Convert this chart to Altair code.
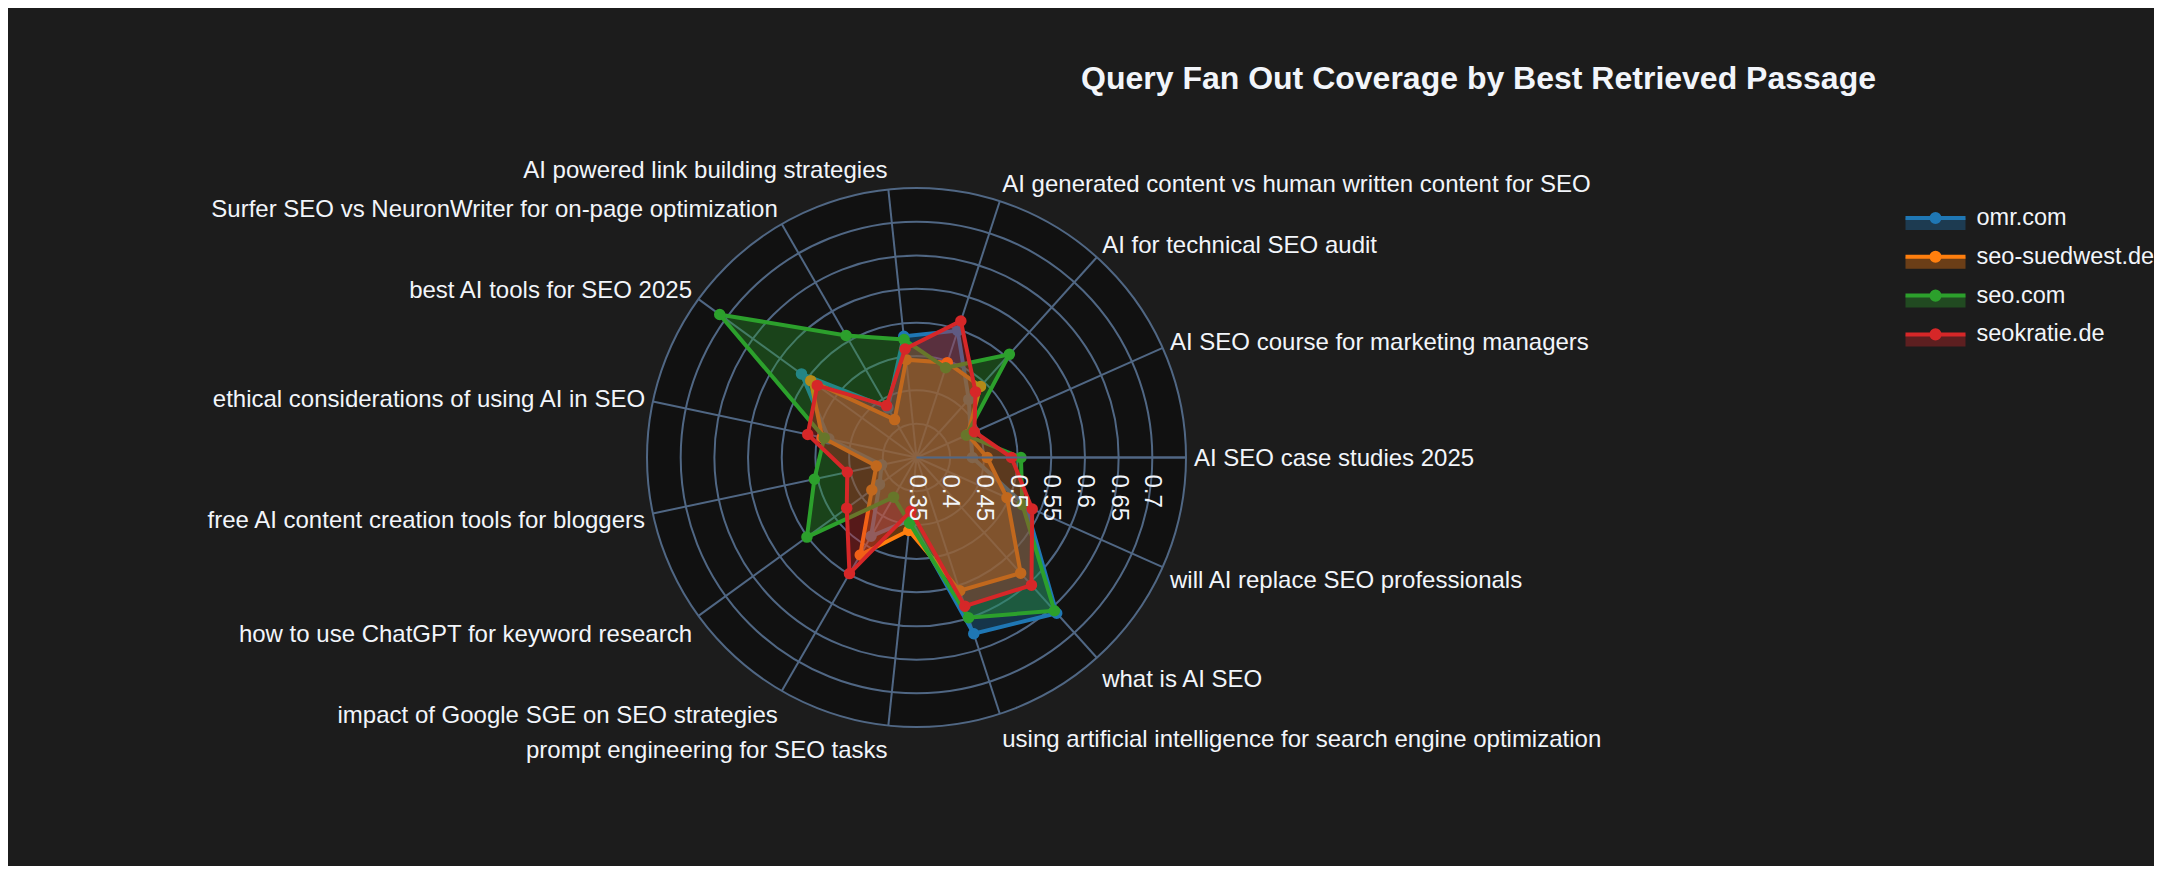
import math
import altair as alt
import pandas as pd

# ---------------- data ----------------
categories = [
    "AI SEO case studies 2025",
    "AI SEO course for marketing managers",
    "AI for technical SEO audit",
    "AI generated content vs human written content for SEO",
    "AI powered link building strategies",
    "Surfer SEO vs NeuronWriter for on-page optimization",
    "best AI tools for SEO 2025",
    "ethical considerations of using AI in SEO",
    "free AI content creation tools for bloggers",
    "how to use ChatGPT for keyword research",
    "impact of Google SGE on SEO strategies",
    "prompt engineering for SEO tasks",
    "using artificial intelligence for search engine optimization",
    "what is AI SEO",
    "will AI replace SEO professionals",
]
sites = ["omr.com", "seo-suedwest.de", "seo.com", "seokratie.de"]
omr_values = [0.433, 0.438, 0.466, 0.548, 0.531, 0.435, 0.561, 0.483, 0.403, 0.418, 0.485, 0.443, 0.625, 0.661, 0.528]
suedwest_values = [0.455, 0.433, 0.492, 0.498, 0.496, 0.415, 0.544, 0.493, 0.411, 0.432, 0.517, 0.459, 0.558, 0.581, 0.497]
seocom_values = [0.505, 0.431, 0.556, 0.490, 0.526, 0.559, 0.711, 0.490, 0.505, 0.551, 0.418, 0.448, 0.600, 0.656, 0.522]
seokratie_values = [0.491, 0.444, 0.481, 0.563, 0.512, 0.439, 0.532, 0.515, 0.455, 0.478, 0.549, 0.430, 0.582, 0.605, 0.538]
site_colors = ["#1f77b4", "#ff7f0e", "#2ca02c", "#d62728"]
ring_values = [0.4, 0.45, 0.5, 0.55, 0.6, 0.65, 0.7]
tick_values = [0.35, 0.4, 0.45, 0.5, 0.55, 0.6, 0.65, 0.7]
tick_labels = ["0.35", "0.4", "0.45", "0.5", "0.55", "0.6", "0.65", "0.7"]
radial_range = [0.35, 0.75]
title_text = "Query Fan Out Coverage by Best Retrieved Passage"

series_values = [omr_values, suedwest_values, seocom_values, seokratie_values]
rows = []
for s, vals in zip(sites, series_values):
    for i, (c, v) in enumerate(zip(categories, vals)):
        rows.append({"site": s, "idx": i, "category": c, "value": v})
df = pd.DataFrame(rows)
cat_df = pd.DataFrame({"idx": list(range(len(categories))), "category": categories})
ring_df = pd.DataFrame({"ring": ring_values})
outer_df = pd.DataFrame({"ring": [radial_range[1]]})
tick_df = pd.DataFrame({"tick": tick_values, "label": tick_labels})

# ---------------- layout / style ----------------
FONT = "Liberation Sans"
TXT = "#f2f5fa"
GRID = "#506784"
PAPER = "#1c1c1c"
POLAR_BG = "#111111"
PLOT = 539
R0 = radial_range[0]
SPAN = radial_range[1] - radial_range[0]
K = PLOT / (2 * SPAN)          # px per data unit
N = len(categories)
FS = 24
LPAD = 8

xs = alt.Scale(domain=[-SPAN, SPAN], nice=False, zero=False)
ys = alt.Scale(domain=[-SPAN, SPAN], nice=False, zero=False)
# circle symbol diameter = sqrt(size): size = (2 r)^2
size_scale = alt.Scale(type="pow", exponent=2, domain=[0, SPAN], range=[0, PLOT ** 2])

theta_expr = f"datum.idx * 2 * PI / {N}"


def X(f):
    return alt.X(f, type="quantitative", scale=xs, axis=None)


def Y(f):
    return alt.Y(f, type="quantitative", scale=ys, axis=None)


X0 = alt.XDatum(0, type="quantitative", scale=xs, axis=None)
Y0 = alt.YDatum(0, type="quantitative", scale=ys, axis=None)

common_leg = dict(
    orient="none", legendX=1271.5, legendY=13, title=None,
    symbolSize=900, symbolStrokeWidth=4,
    labelFontSize=23.5, labelFont=FONT, labelColor=TXT, labelOffset=24,
    labelLimit=500, padding=0, rowPadding=1.8,
)
# both legend glyphs share the same bounding box so that their rows line up
bbox = "M-2,-0.55L-2,-0.55M2,0.8L2,0.8"
rect_path = bbox + "M-2,0H2V0.8H-2Z"
line_dot_path = (bbox + "M-2,0H2"
                 "M0.1,0A0.1,0.1,0,1,1,-0.1,0A0.1,0.1,0,1,1,0.1,0Z"
                 "M0.27,0A0.27,0.27,0,1,1,-0.27,0A0.27,0.27,0,1,1,0.27,0Z")
fill_legend = alt.Legend(symbolType=rect_path, symbolStrokeColor="transparent",
                         symbolOpacity=0.35, labelOpacity=0, zindex=0, **common_leg)
stroke_legend = alt.Legend(symbolType=line_dot_path, symbolFillColor="transparent",
                           zindex=1, **common_leg)
fill_scale = alt.Scale(range=site_colors)
stroke_scale = alt.Scale(range=site_colors)

# ---------------- layers ----------------
ring_base = alt.Chart(ring_df).transform_calculate(d=f"datum.ring - {R0}")
outer_base = alt.Chart(outer_df).transform_calculate(d=f"datum.ring - {R0}")

bg_disk = outer_base.mark_point(shape="circle", filled=True, fill=POLAR_BG, opacity=1,
                                strokeWidth=0).encode(
    x=X0, y=Y0, size=alt.Size("d:Q", scale=size_scale, legend=None))

rings = ring_base.mark_point(shape="circle", filled=False, stroke=GRID, strokeWidth=2,
                             opacity=1).encode(
    x=X0, y=Y0, size=alt.Size("d:Q", scale=size_scale, legend=None))

spokes = alt.Chart(cat_df).transform_calculate(theta=theta_expr).transform_calculate(
    ox=f"{SPAN} * cos(datum.theta)", oy=f"{SPAN} * sin(datum.theta)", zx="0", zy="0"
).mark_rule(stroke=GRID, strokeWidth=2).encode(x=X("zx"), y=Y("zy"), x2="ox:Q", y2="oy:Q")

series_layers = []
for s in sites:
    base = alt.Chart(df).transform_filter(alt.datum.site == s).transform_calculate(
        theta=theta_expr, site2="datum.site"
    ).transform_calculate(
        px=f"(datum.value - {R0}) * cos(datum.theta)",
        py=f"(datum.value - {R0}) * sin(datum.theta)",
    )
    poly = base.mark_line(interpolate="linear-closed", fillOpacity=0.35, strokeWidth=4).encode(
        x=X("px"), y=Y("py"), order="idx:Q",
        fill=alt.Fill("site:N", scale=fill_scale, legend=fill_legend),
        stroke=alt.Stroke("site2:N", scale=stroke_scale, legend=stroke_legend),
    )
    pts = base.mark_point(shape="circle", filled=False, size=36, strokeWidth=5.5, opacity=1).encode(
        x=X("px"), y=Y("py"),
        stroke=alt.Stroke("site2:N", scale=stroke_scale, legend=stroke_legend),
    )
    series_layers += [poly, pts]

radial_line = outer_base.transform_calculate(zx="0", zy="0").mark_rule(
    stroke=GRID, strokeWidth=2).encode(x=X("zx"), x2="d:Q", y=Y("zy"))

outer_circle = outer_base.mark_point(shape="circle", filled=False, stroke=GRID, strokeWidth=2,
                                     opacity=1).encode(
    x=X0, y=Y0, size=alt.Size("d:Q", scale=size_scale, legend=None))

tick_text = alt.Chart(tick_df).transform_calculate(tx=f"datum.tick - {R0}", zy="0").mark_text(
    angle=90, align="left", baseline="middle", dx=17, fontSize=FS, font=FONT, color=TXT
).encode(x=X("tx"), y=Y("zy"), text="label:N")

lab_base = alt.Chart(cat_df).transform_calculate(theta=theta_expr).transform_calculate(
    lx=f"cos(datum.theta) * ({SPAN} + {LPAD / K})",
    ly=(f"sin(datum.theta) * {SPAN} + (sin(datum.theta) * ({LPAD} + {FS} * (sin(datum.theta) > 0 ? 0.2 : 1))"
        f" - abs(cos(datum.theta)) * 0.35 * {FS}) / {K}"),
)
lab_right = lab_base.transform_filter("cos(datum.theta) > 0").mark_text(
    align="left", baseline="alphabetic", fontSize=FS, font=FONT, color=TXT
).encode(x=X("lx"), y=Y("ly"), text="category:N")
lab_left = lab_base.transform_filter("cos(datum.theta) < 0").mark_text(
    align="right", baseline="alphabetic", fontSize=FS, font=FONT, color=TXT
).encode(x=X("lx"), y=Y("ly"), text="category:N")

chart = alt.layer(
    bg_disk, rings, spokes, *series_layers, radial_line, outer_circle, tick_text, lab_right, lab_left
).properties(
    width=PLOT, height=PLOT,
    padding={"left": 639, "top": 180, "right": 968, "bottom": 139},
    autosize=alt.AutoSizeParams(type="none"),
    background=PAPER,
    title=alt.TitleParams(text=title_text, anchor="start", frame="group", dx=434, offset=63,
                          fontSize=32, font=FONT, fontWeight="bold", color=TXT),
).configure_view(strokeWidth=0)

chart.save("out.html", embed_options={"renderer": "svg", "actions": False})
